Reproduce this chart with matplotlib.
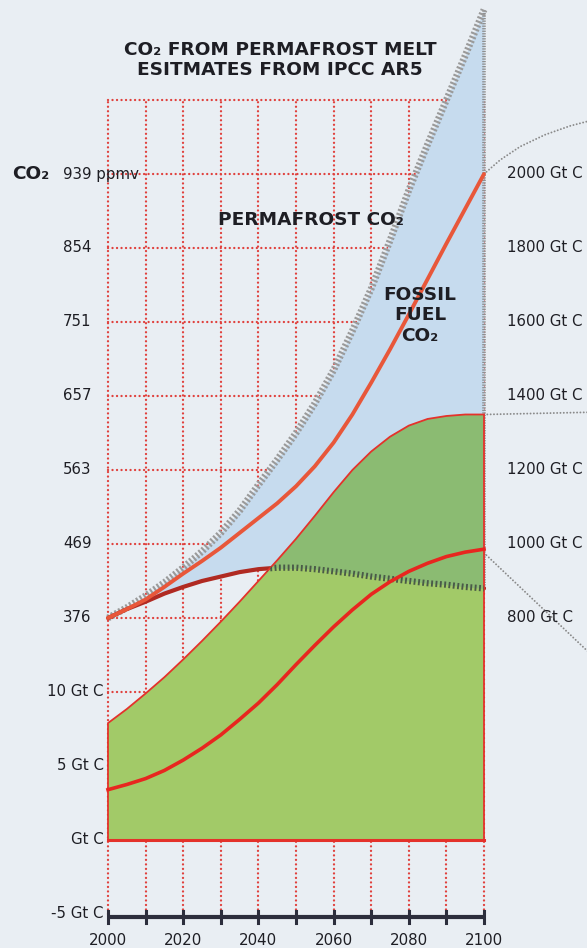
import numpy as np
import matplotlib.pyplot as plt
from matplotlib.patches import Polygon

# values, every 5 years
years = list(range(2000, 2101, 5))

# cumulative carbon, Gt C (right hand scale, 800 .. 2000)
permafrost_gtc = [800, 828, 860, 896, 936, 980, 1030, 1090, 1160, 1228, 1300,
                  1380, 1470, 1576, 1690, 1820, 1956, 2080, 2200, 2320, 2444]
fossil_gtc = [800, 824, 850, 884, 920, 954, 990, 1030, 1070, 1110, 1156,
              1210, 1274, 1350, 1436, 1526, 1620, 1716, 1812, 1906, 2000]
low_gtc = [800, 824, 844, 866, 884, 900, 912, 924, 932, 936, 936,
           932, 926, 920, 912, 906, 900, 894, 890, 884, 880]

# yearly emissions, Gt C (lower left scale)
emis_high = [7.9, 8.85, 9.9, 11.0, 12.2, 13.45, 14.75, 16.1, 17.5, 18.9, 20.35,
             21.9, 23.5, 25.0, 26.25, 27.25, 28.0, 28.45, 28.65, 28.75, 28.75]
emis_low = [3.4, 3.75, 4.15, 4.7, 5.4, 6.2, 7.1, 8.15, 9.25, 10.5, 11.85,
            13.15, 14.4, 15.55, 16.6, 17.45, 18.15, 18.7, 19.15, 19.45, 19.65]

ppm_labels = ['376', '469', '563', '657', '751', '854', '939 ppmv']
gtc_ticks = [800, 1000, 1200, 1400, 1600, 1800, 2000]
emis_ticks = [-5, 0, 5, 10]
emis_labels = ['-5 Gt C', 'Gt C', '5 Gt C', '10 Gt C']
year_labels = [2000, 2020, 2040, 2060, 2080, 2100]

bg = '#e9eef3'
grid_red = '#e0403c'
blue = '#c6dbee'
green = '#a2ca68'
dark_green = '#8bbb72'
text_col = '#1e1e24'


# the chart stacks two scales on one grid: rows 0-2 are 5 Gt C/yr each,
# rows 3-9 are 200 Gt C (cumulative) each
def cum_row(v):
    return 3 + (np.array(v, float) - 800) / 200


def emis_row(v):
    return np.array(v, float) / 5


plt.rcParams['font.family'] = 'DejaVu Sans'
fig = plt.figure(figsize=(5.87, 9.48), dpi=100)
fig.patch.set_facecolor(bg)
ax = fig.add_axes([0, 0, 1, 1])
ax.set_facecolor(bg)
# 2000 sits at x=108px, 3.76 px per year; row 0 at y=840px, 74 px per row
ax.set_xlim(2000 - 108 / 3.76, 2000 + (587 - 108) / 3.76)
ax.set_ylim((840 - 948) / 74, 840 / 74)
ax.axis('off')

dots = dict(color=grid_red, lw=1.7, ls=(0, (0.01, 1.9)), dash_capstyle='round', zorder=1)
for yr in range(2000, 2101, 10):
    ax.plot([yr, yr], [-1, 10], **dots)
for r in range(1, 11):
    ax.plot([2000, 2100], [r, r], **dots)

gray_r = cum_row(permafrost_gtc)
fossil_r = cum_row(fossil_gtc)
low_r = cum_row(low_gtc)
high_e = emis_row(emis_high)
low_e = emis_row(emis_low)

# blue band between the permafrost curve and the lower fossil path
ax.fill_between(years, gray_r, low_r, color=blue, lw=0, zorder=2)
ax.plot([2100, 2100], [low_r[-1], gray_r[-1]], color='#8f8f8f', lw=2.6,
        dashes=(0.35, 0.35), solid_capstyle='butt', zorder=3)
ax.plot(years, gray_r, color='#9a9a9a', lw=5, dashes=(0.3, 0.3),
        dash_capstyle='butt', zorder=3)
ax.plot(years, low_r, color='#b02a22', lw=3, zorder=4, solid_capstyle='round')
ax.plot(years, fossil_r, color='#e8573a', lw=2.8, zorder=5, solid_capstyle='round')

# green emissions area
verts = [(2000, 0)] + list(zip(years, high_e)) + [(2100, 0)]
green_patch = Polygon(verts, closed=True, facecolor=green, edgecolor='none', zorder=6)
ax.add_patch(green_patch)
overlap = ax.fill_between(years, gray_r, low_r, color=dark_green, lw=0, zorder=6.5)
overlap.set_clip_path(green_patch)
ax.add_patch(Polygon(verts, closed=True, fill=False, edgecolor='#e4322b', lw=1.3, zorder=7))
ax.plot([2000, 2100], [0, 0], color='#e4322b', lw=2.2, zorder=7)
hatch, = ax.plot(years, low_r, color='#4a5a48', lw=4.5, dashes=(0.3, 0.4),
                 dash_capstyle='butt', zorder=7.5)
hatch.set_clip_path(green_patch)
ax.plot(years, low_e, color='#e8261f', lw=2.6, zorder=8)

# leader lines on the right
lead = dict(color='#8a8a8a', lw=1.4, ls=(0, (0.01, 1.7)), dash_capstyle='round',
            zorder=3, clip_on=False)
arc_dx = np.array([0, 4.3, 9.6, 16.2, 22.9, 28.2])
arc_dy = np.array([0, 0.19, 0.37, 0.53, 0.65, 0.72])
ax.plot(2100 + arc_dx, fossil_r[-1] + arc_dy, **lead)
ax.plot([2100, 2128], [high_e[-1], high_e[-1] + 0.03], **lead)
ax.plot([2100, 2128], [low_e[-1] - 0.05, low_e[-1] - 1.4], **lead)

# bottom axis
axis_col = '#2c2e3c'
ax.plot([2000, 2100], [-1.04, -1.04], color=axis_col, lw=3, solid_capstyle='butt', zorder=9)
for yr in range(2000, 2101, 10):
    ax.plot([yr, yr], [-0.96, -1.12], color=axis_col, lw=2.2, zorder=9)
for yr in year_labels:
    ax.text(yr, -1.36, str(yr), ha='center', va='center', fontsize=10.8, color=text_col)

# left and right scale labels
for r, lab in zip(range(3, 3 + len(ppm_labels)), ppm_labels):
    ax.annotate(lab, (2000, r), xytext=(-45, 0), textcoords='offset pixels',
                ha='left', va='center', fontsize=10.8, color=text_col, zorder=10)
for v, lab in zip(emis_ticks, emis_labels):
    ax.annotate(lab, (2000, emis_row(v)), xytext=(-4, 0), textcoords='offset pixels',
                ha='right', va='center', fontsize=10.8, color=text_col)
for v in gtc_ticks:
    ax.annotate(f'{v} Gt C', (2100, cum_row(v)), xytext=(23, 0), textcoords='offset pixels',
                ha='left', va='center', fontsize=10.8, color=text_col)
ax.annotate('CO₂', (2000, 9), xytext=(-96, 0), textcoords='offset pixels',
            ha='left', va='center', fontsize=13.3, fontweight='bold', color=text_col)

ax.text(2045.7, 10.54, 'CO₂ FROM PERMAFROST MELT\nESITMATES FROM IPCC AR5',
        ha='center', va='center', fontsize=13.3, fontweight='bold',
        linespacing=1.1, color=text_col, zorder=10)
ax.text(2054, 8.38, 'PERMAFROST CO₂', ha='center', va='center', fontsize=13.3,
        fontweight='bold', color=text_col, zorder=10)
ax.text(2083, 7.09, 'FOSSIL\nFUEL\nCO₂', ha='center', va='center', fontsize=13.3,
        fontweight='bold', linespacing=1.19, color=text_col, zorder=10)

fig.savefig('out.png', dpi=100, facecolor=bg)
